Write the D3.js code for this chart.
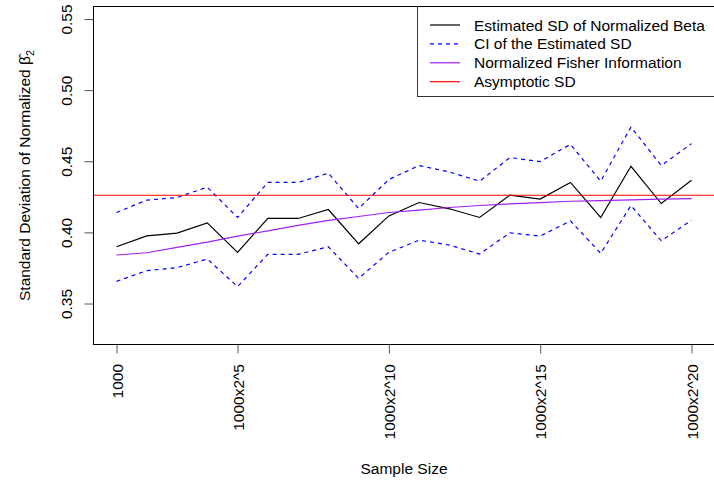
<!DOCTYPE html>
<html>
<head>
<meta charset="utf-8">
<script src="https://cdn.jsdelivr.net/npm/d3@7"></script>
<style>
  html, body { margin: 0; padding: 0; background: #fff; }
  svg { display: block; font-family: "Liberation Sans", Arial, Helvetica, sans-serif; }
</style>
</head>
<body>
<svg id="chart" width="714" height="483"></svg>
<script>
// ---- data ----
const xIndex = [1,2,3,4,5,6,7,8,9,10,11,12,13,14,15,16,17,18,19,20];
const estimatedSD = [0.3899,0.3976,0.3995,0.4067,0.3860,0.4098,0.4098,0.4161,0.3920,0.4116,
                     0.4210,0.4166,0.4105,0.4262,0.4234,0.4351,0.4105,0.4465,0.4203,0.4367];
const ciUpper = [0.4140,0.4227,0.4245,0.4318,0.4105,0.4351,0.4351,0.4416,0.4168,0.4372,
                 0.4470,0.4425,0.4360,0.4526,0.4498,0.4619,0.4360,0.4741,0.4470,0.4624];
const ciLower = [0.3656,0.3731,0.3752,0.3813,0.3619,0.3846,0.3846,0.3899,0.3677,0.3860,
                 0.3946,0.3911,0.3848,0.3997,0.3974,0.4081,0.3853,0.4189,0.3941,0.4086];
const fisherSD = [0.3841,0.3857,0.3895,0.3932,0.3974,0.4011,0.4049,0.4084,0.4112,0.4140,
                  0.4156,0.4175,0.4189,0.4201,0.4210,0.4219,0.4224,0.4229,0.4234,0.4238];
const asymptoticSD = 0.4261;
const xTickValues = [1, 5, 10, 15, 20];
const xTickLabels = ["1000", "1000x2^5", "1000x2^10", "1000x2^15", "1000x2^20"];
const yTickValues = [0.35, 0.40, 0.45, 0.50, 0.55];
const legendLabels = ["Estimated SD of Normalized Beta", "CI of the Estimated SD",
                      "Normalized Fisher Information", "Asymptotic SD"];
const legendColors = ["#000000", "#0000FF", "#A020F0", "#FF0000"];
const legendDash = [null, "4,4", null, null];

// ---- layout ----
const svg = d3.select("#chart");
const FS = 15.5;
const pL = 93.5, pR = 714.5, pT = 6.5, pB = 344.5;
// R style 4% axis expansion
const xlim = [1, 20], ylim = [0.33, 0.55];
const xPad = (xlim[1]-xlim[0])*0.04, yPad = (ylim[1]-ylim[0])*0.04;
const x = d3.scaleLinear().domain([xlim[0]-xPad, xlim[1]+xPad]).range([pL, pR]);
const y = d3.scaleLinear().domain([ylim[0]-yPad, ylim[1]+yPad]).range([pB, pT]);

svg.append("defs").append("clipPath").attr("id", "plotclip")
  .append("rect").attr("x", pL).attr("y", pT).attr("width", pR-pL).attr("height", pB-pT);

const plot = svg.append("g").attr("clip-path", "url(#plotclip)");

function series(vals) { return xIndex.map((d, i) => [d, vals[i]]); }
const line = d3.line().x(d => x(d[0])).y(d => y(d[1]));

plot.append("path").attr("d", line(series(estimatedSD)))
  .attr("fill", "none").attr("stroke", "#000").attr("stroke-width", 1.2);
[ciUpper, ciLower].forEach(v => {
  plot.append("path").attr("d", line(series(v)))
    .attr("fill", "none").attr("stroke", "#0000FF").attr("stroke-width", 1.2)
    .attr("stroke-dasharray", "4,4");
});
plot.append("path").attr("d", line(series(fisherSD)))
  .attr("fill", "none").attr("stroke", "#A020F0").attr("stroke-width", 1.2);
plot.append("line")
  .attr("x1", pL).attr("x2", pR).attr("y1", y(asymptoticSD)).attr("y2", y(asymptoticSD))
  .attr("stroke", "#FF0000").attr("stroke-width", 1.2);

// ---- axes ----
const yAxis = d3.axisLeft(y).tickValues(yTickValues).tickSize(9).tickFormat("");
const gy = svg.append("g").attr("transform", `translate(${pL},0)`).call(yAxis);
gy.select(".domain").remove();
gy.selectAll(".tick line").attr("stroke", "#555");
gy.selectAll(".tick").append("text")
  .attr("transform", "rotate(-90)")
  .attr("x", 0).attr("y", -21.5)
  .attr("text-anchor", "middle")
  .attr("fill", "#000").attr("font-size", FS)
  .text(d => d3.format(".2f")(d));

const xAxis = d3.axisBottom(x).tickValues(xTickValues).tickSize(9).tickFormat("");
const gx = svg.append("g").attr("transform", `translate(0,${pB})`).call(xAxis);
gx.select(".domain").remove();
gx.selectAll(".tick line").attr("stroke", "#555");
gx.selectAll(".tick").append("text")
  .attr("transform", "rotate(-90)")
  .attr("x", -19.5).attr("y", 5.5)
  .attr("text-anchor", "end")
  .attr("fill", "#000").attr("font-size", FS)
  .text((d, i) => xTickLabels[i]);

// ---- box ----
svg.append("rect").attr("x", pL).attr("y", pT)
  .attr("width", pR-pL).attr("height", pB-pT)
  .attr("fill", "none").attr("stroke", "#000").attr("stroke-width", 1);

// ---- axis titles ----
svg.append("text").attr("x", (pL+pR)/2).attr("y", 473.5)
  .attr("text-anchor", "middle").attr("font-size", FS).text("Sample Size");

const ylab = svg.append("text")
  .attr("transform", `translate(30,${(pT+pB)/2}) rotate(-90)`)
  .attr("text-anchor", "middle").attr("font-size", FS);
ylab.append("tspan").text("Standard Deviation of Normalized ");
ylab.append("tspan").text("\u03B2\u0302");
ylab.append("tspan").attr("font-size", FS*0.7).attr("dy", 4).text("2");

// ---- legend ----
const lgLeft = 417.5, lgTop = 6.5, lgBottom = 96.5;
svg.append("rect").attr("x", lgLeft).attr("y", lgTop)
  .attr("width", pR - lgLeft + 2).attr("height", lgBottom - lgTop)
  .attr("fill", "#fff").attr("stroke", "#333").attr("stroke-width", 1);
svg.append("line").attr("x1", pL).attr("x2", pR + 2).attr("y1", pT).attr("y2", pT)
  .attr("stroke", "#000");
const rowY = d3.scaleLinear().domain([0, 3]).range([25, 81.7]);
legendLabels.forEach((lab, i) => {
  const yy = rowY(i);
  svg.append("line").attr("x1", 430).attr("x2", 460).attr("y1", yy).attr("y2", yy)
    .attr("stroke", legendColors[i]).attr("stroke-width", 1.2)
    .attr("stroke-dasharray", legendDash[i]);
  svg.append("text").attr("x", 474).attr("y", yy + 5.5)
    .attr("font-size", FS).attr("fill", "#000").text(lab);
});
</script>
</body>
</html>
